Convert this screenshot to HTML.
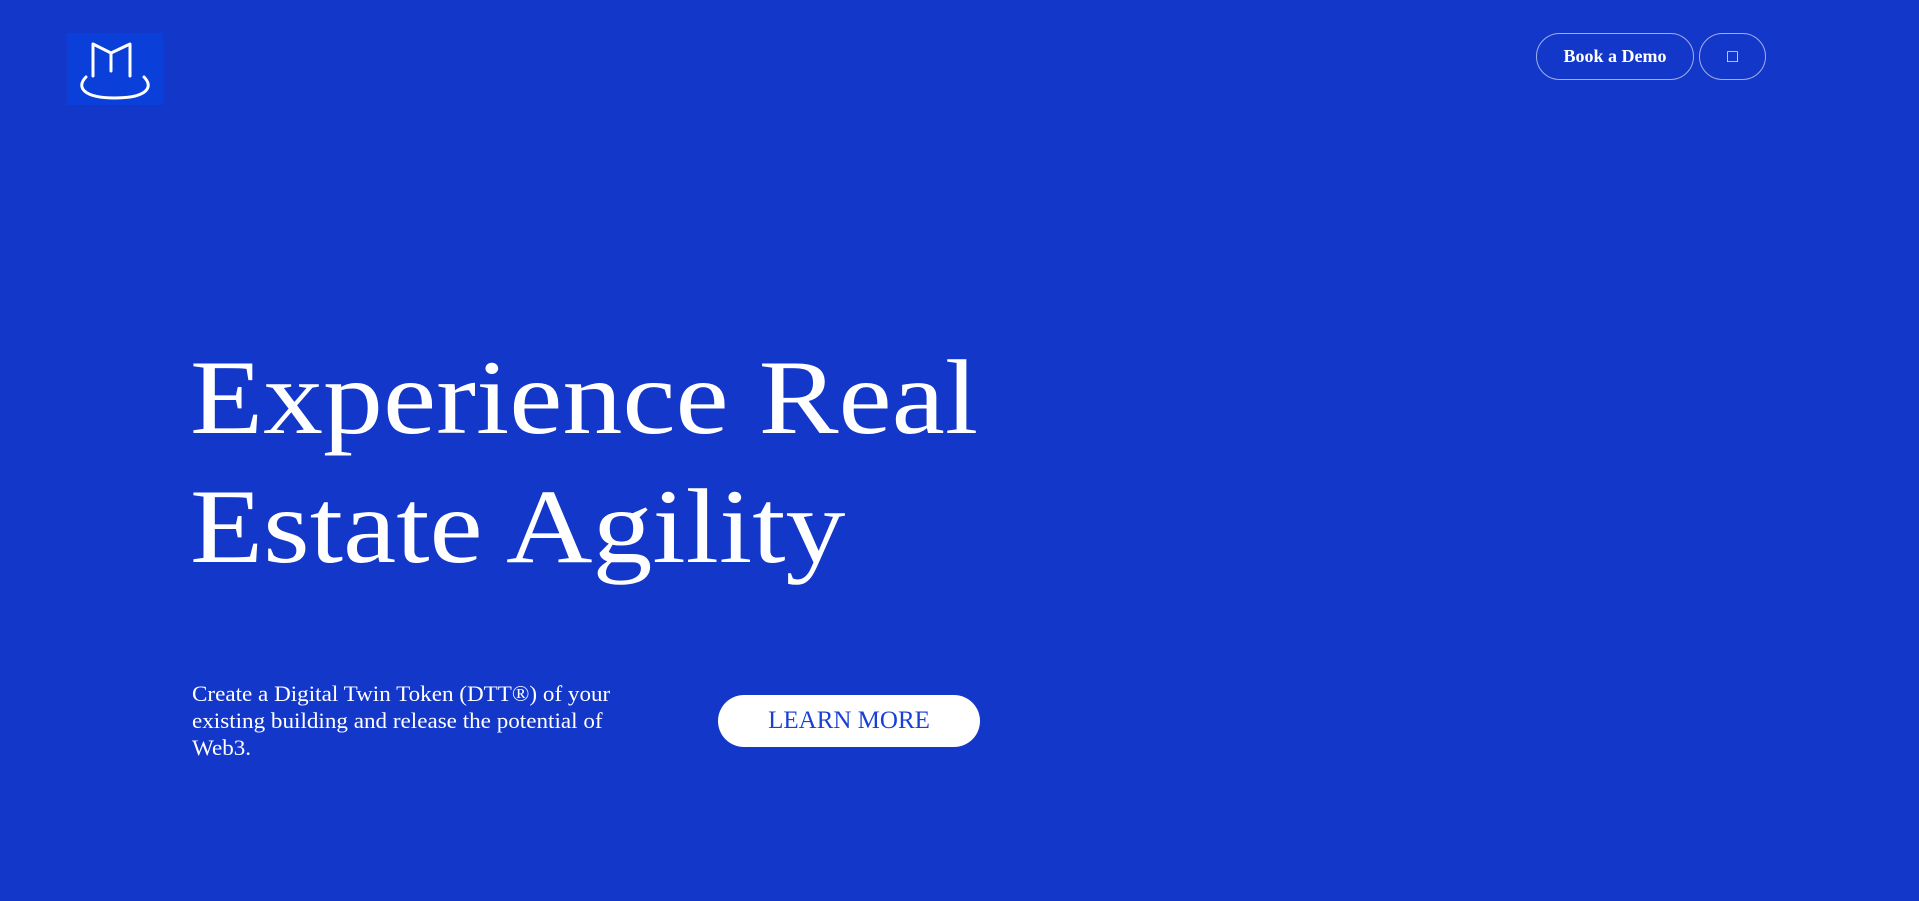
<!DOCTYPE html>
<html><head><meta charset="utf-8"><style>
html,body{margin:0;padding:0}
body{width:1919px;height:901px;background:#1337c9;position:relative;overflow:hidden;font-family:"Liberation Serif",serif;color:#fff}
.logo{position:absolute;left:67px;top:33px;width:96px;height:72px;background:#0a3fd9}
.btn{position:absolute;top:33px;height:47px;border:1px solid rgba(255,255,255,.6);border-radius:25px;box-sizing:border-box;display:flex;align-items:center;justify-content:center;font-size:18px;font-weight:bold;color:#fff}
h1{position:absolute;left:190px;top:333px;margin:0;font-weight:normal;font-size:106px;line-height:129px;white-space:nowrap;transform:scaleX(1.13);transform-origin:0 0}
p{position:absolute;left:192px;top:680px;margin:0;width:405px;font-size:22px;line-height:27px;transform:scaleX(1.05);transform-origin:0 0}
.learn{position:absolute;left:718px;top:695px;width:262px;height:52px;background:#fff;border-radius:26px;color:#1a3fd6;font-size:25px;display:flex;align-items:center;justify-content:center}
</style></head><body>
<div class="logo"><svg width="96" height="72" viewBox="0 0 96 72"><g fill="none" stroke="#fff" stroke-width="3" stroke-linecap="round" stroke-linejoin="round"><path d="M26 43 V11 L44 20 L63 11 V43"/><path d="M44 20 V38"/><path d="M19 44 C9 54 16 65 48 65 C80 65 87 54 77 44"/></g></svg></div>
<div class="btn" style="left:1536px;width:158px">Book a Demo</div>
<div class="btn" style="left:1699px;width:67px;font-weight:normal">&#9633;</div>
<h1>Experience Real<br>Estate Agility</h1>
<p>Create a Digital Twin Token (DTT®) of your existing building and release the potential of Web3.</p>
<div class="learn">LEARN MORE</div>
</body></html>
